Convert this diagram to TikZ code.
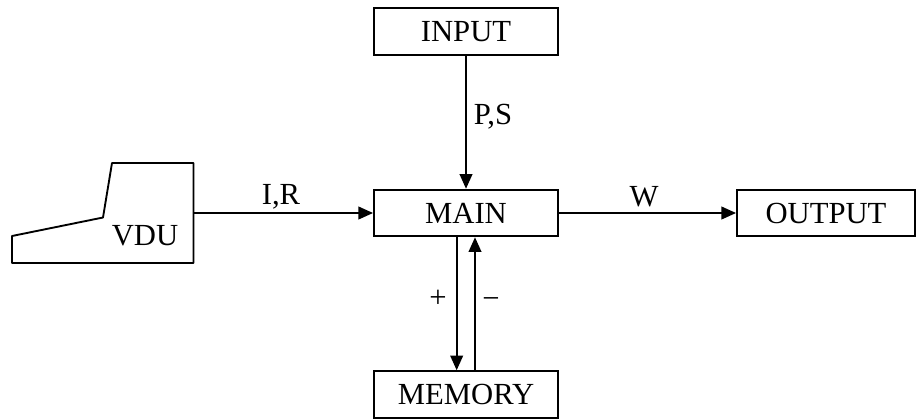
\documentclass[tikz,border=0pt]{standalone}
\usepackage{fontspec}
\setmainfont{Liberation Serif}
\usetikzlibrary{shapes, arrows.meta, positioning}

\tikzset{
	unit/.style={draw, line width=1.4pt, minimum width=138pt, minimum height=35pt, inner sep=0pt, font=\fontsize{23}{26}\selectfont},
	flow/.style={line width=1.4pt, -{Triangle[length=11pt,width=9.5pt]}},
	tag/.style={inner sep=0pt, font=\fontsize{23}{26}\selectfont}
}

\begin{document}
\begin{tikzpicture}[x=0.75pt,y=-0.75pt]
		\useasboundingbox (0,0) rectangle (916,419);
		\node[unit](input) at (466,31.5) {INPUT};
		\node[unit](main) at (466,213) {MAIN};
		\node[unit](memory) at (466,394.5) {MEMORY};
		\node[unit, minimum width=133.5pt](output) at (826,213) {OUTPUT};
		% terminal outline
		\draw [line width=1.4pt, line join=round] (12,263) -- (12,236) -- (103,217.5) -- (112,163) -- (193.5,163) -- (193.5,263) -- cycle;
		\coordinate (vdu) at (193.5,213);
		\node[tag](vdulabel) at (145,236) {VDU};
		\draw [flow] (vdu) -- (main);
		\draw [flow] (input) -- (main);
		\draw [flow] (main) -- (output);
		\draw [flow] ([xshift=-7pt]main.south) -- ([xshift=-7pt]memory.north);
		\draw [flow] ([xshift=6.75pt]memory.north) -- ([xshift=6.75pt]main.south);
		\node[tag](ir) at (281,197) {I,R};
		\node[tag](ps) at (493,117) {P,S};
		\node[tag](w) at (644,197) {W};
		\node[tag](plus) at (438,299) {+};
		\node[tag](minus) at (491,303) {−};
	\end{tikzpicture}
\end{document}
